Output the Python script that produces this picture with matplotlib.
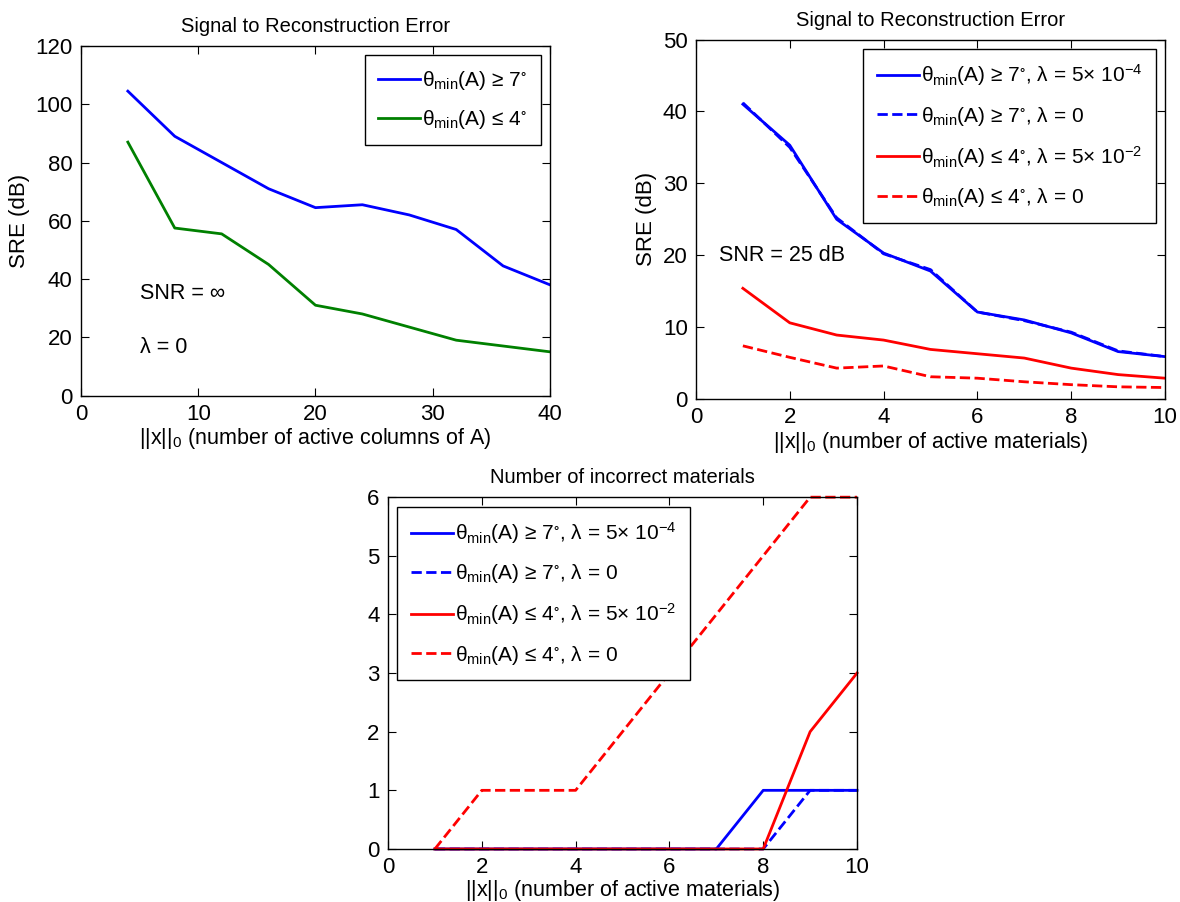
import matplotlib
matplotlib.use("Agg")
import matplotlib.pyplot as plt

plt.rcParams["font.family"] = ["Liberation Sans", "DejaVu Sans"]
plt.rcParams["mathtext.fontset"] = "custom"
plt.rcParams["mathtext.rm"] = "Liberation Sans"
plt.rcParams["mathtext.it"] = "Liberation Sans:italic"
plt.rcParams["mathtext.bf"] = "Liberation Sans:bold"
plt.rcParams["mathtext.fallback"] = "stixsans"

# ── Data ──────────────────────────────────────────────────────────────────────

# Top-left: SRE vs number of active columns, SNR = inf
cols_k = [4, 8, 12, 16, 20, 24, 28, 32, 36, 40]
sre_ge7 = [104.5, 89, 80, 71, 64.5, 65.5, 62, 57, 44.5, 38]
sre_le4 = [87, 57.5, 55.5, 45, 31, 28, 23.5, 19, 17, 15]

# Top-right: SRE vs number of active materials, SNR = 25 dB
mat_k = [1, 2, 3, 4, 5, 6, 7, 8, 9, 10]
sre_ge7_reg = [41.0, 35.3, 25.0, 20.3, 17.8, 12.1, 11.0, 9.2, 6.6, 5.9]
sre_ge7_noreg = [41.2, 35.0, 25.2, 20.2, 18.0, 12.1, 10.9, 9.3, 6.7, 5.9]
sre_le4_reg = [15.4, 10.6, 8.9, 8.2, 6.9, 6.3, 5.7, 4.3, 3.4, 2.9]
sre_le4_noreg = [7.4, 5.8, 4.3, 4.6, 3.1, 2.9, 2.4, 2.0, 1.7, 1.6]

# Bottom: number of incorrect materials
wrong_ge7_reg = [0, 0, 0, 0, 0, 0, 0, 1, 1, 1]
wrong_ge7_noreg = [0, 0, 0, 0, 0, 0, 0, 0, 1, 1]
wrong_le4_reg = [0, 0, 0, 0, 0, 0, 0, 0, 2, 3]
wrong_le4_noreg = [0, 1, 1, 1, 2, 3, 4, 5, 6, 6]

LBL_GE7 = r"θ$_{\mathrm{min}}$(A) ≥ 7$^{\circ}$"
LBL_LE4 = r"θ$_{\mathrm{min}}$(A) ≤ 4$^{\circ}$"
LBL_MAT = [
    LBL_GE7 + r", λ = 5× 10$^{-4}$",
    LBL_GE7 + ", λ = 0",
    LBL_LE4 + r", λ = 5× 10$^{-2}$",
    LBL_LE4 + ", λ = 0",
]

BLUE, GREEN, RED = "#0000ff", "#008000", "#ff0000"
FS = 15.5
LW = 2.0


def style_axes(ax):
    ax.tick_params(direction="in", top=True, right=True, length=6,
                   width=0.8, labelsize=16, pad=6)
    for s in ax.spines.values():
        s.set_linewidth(1.0)


def legend(ax, loc):
    leg = ax.legend(loc=loc, fontsize=15, fancybox=False, framealpha=1,
                    edgecolor="black", handlelength=2.0, handletextpad=0.1,
                    borderaxespad=0.45, labelspacing=0.78, borderpad=0.65)
    leg.get_frame().set_linewidth(1.0)
    return leg


fig = plt.figure(figsize=(11.8, 9.02), dpi=100)

# ── Top-left ──────────────────────────────────────────────────────────────────
ax1 = fig.add_axes([0.0686, 0.5615, 0.3975, 0.3875])
ax1.plot(cols_k, sre_ge7, color=BLUE, lw=LW, label=LBL_GE7)
ax1.plot(cols_k, sre_le4, color=GREEN, lw=LW, label=LBL_LE4)
ax1.set_xlim(0, 40)
ax1.set_ylim(0, 120)
ax1.set_xticks(range(0, 41, 10))
ax1.set_yticks(range(0, 121, 20))
ax1.set_xlabel(r"||x||$_0$ (number of active columns of A)", fontsize=15.5, labelpad=1)
ax1.set_ylabel("SRE (dB)", fontsize=16)
ax1.set_title("Signal to Reconstruction Error", fontsize=14.5, pad=10)
ax1.text(5, 35, "SNR = ∞", fontsize=FS, va="center")
ax1.text(5, 16.5, "λ = 0", fontsize=FS, va="center")
style_axes(ax1)
legend(ax1, "upper right")

# ── Top-right ─────────────────────────────────────────────────────────────────
ax2 = fig.add_axes([0.5898, 0.5576, 0.3975, 0.3986])
ax2.plot(mat_k, sre_ge7_reg, color=BLUE, lw=LW, label=LBL_MAT[0])
ax2.plot(mat_k, sre_ge7_noreg, color=BLUE, lw=LW, ls="--", label=LBL_MAT[1])
ax2.plot(mat_k, sre_le4_reg, color=RED, lw=LW, label=LBL_MAT[2])
ax2.plot(mat_k, sre_le4_noreg, color=RED, lw=LW, ls="--", label=LBL_MAT[3])
ax2.set_xlim(0, 10)
ax2.set_ylim(0, 50)
ax2.set_xticks(range(0, 11, 2))
ax2.set_yticks(range(0, 51, 10))
ax2.set_xlabel(r"||x||$_0$ (number of active materials)", fontsize=15.5, labelpad=1)
ax2.set_ylabel("SRE (dB)", fontsize=16)
ax2.set_title("Signal to Reconstruction Error", fontsize=14.5, pad=10)
ax2.text(0.5, 20, "SNR = 25 dB", fontsize=FS, va="center")
style_axes(ax2)
legend(ax2, "upper right")

# ── Bottom ────────────────────────────────────────────────────────────────────
ax3 = fig.add_axes([0.3288, 0.0588, 0.3975, 0.390])
ax3.plot(mat_k, wrong_ge7_reg, color=BLUE, lw=LW, label=LBL_MAT[0], clip_on=False)
ax3.plot(mat_k, wrong_ge7_noreg, color=BLUE, lw=LW, ls="--", label=LBL_MAT[1], clip_on=False)
ax3.plot(mat_k, wrong_le4_reg, color=RED, lw=LW, label=LBL_MAT[2], clip_on=False)
ax3.plot(mat_k, wrong_le4_noreg, color=RED, lw=LW, ls="--", label=LBL_MAT[3], clip_on=False)
ax3.set_xlim(0, 10)
ax3.set_ylim(0, 6)
ax3.set_xticks(range(0, 11, 2))
ax3.set_yticks(range(0, 7))
ax3.set_xlabel(r"||x||$_0$ (number of active materials)", fontsize=15.5, labelpad=0)
ax3.set_title("Number of incorrect materials", fontsize=14.5, pad=10)
style_axes(ax3)
legend(ax3, "upper left")

fig.savefig("out.png", dpi=100)
